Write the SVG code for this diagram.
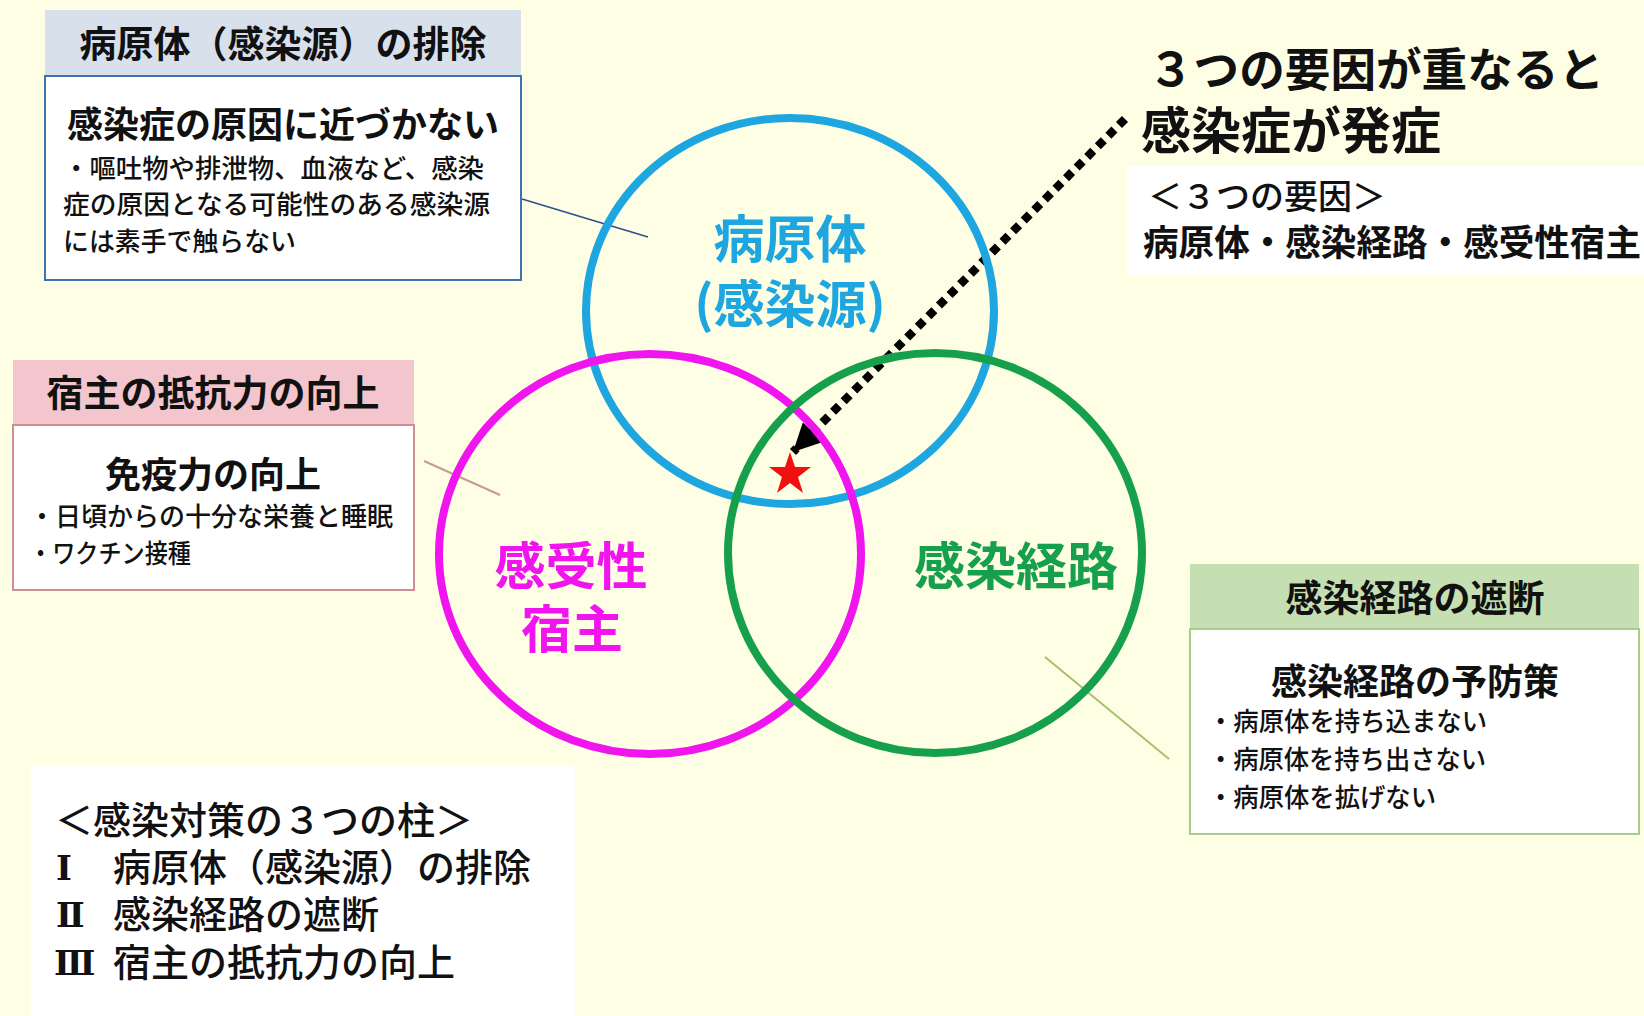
<svg xmlns="http://www.w3.org/2000/svg" width="1644" height="1016" viewBox="0 0 1644 1016">
<defs>
<style>
text{font-family:"Noto Sans CJK JP","Noto Sans",sans-serif;fill:#111}
.b{font-weight:700}
.hd{font-size:37px;font-weight:700;text-anchor:middle}
.tt{font-size:36px;font-weight:700;text-anchor:middle}
.ln{font-size:26.5px;font-weight:500}
.circ{fill:none;stroke-width:8}
.lbl{font-size:51px;font-weight:700;text-anchor:middle}
.big{font-size:38px;font-weight:500}
.rn{font-family:"DejaVu Serif","Liberation Serif",serif;font-weight:700;font-size:34px}
</style>
<marker id="ah" markerUnits="userSpaceOnUse" markerWidth="28" markerHeight="28" viewBox="0 0 10 10" refX="10" refY="5" orient="auto">
<path d="M0,0 L10,5 L0,10 z" fill="#000"/>
</marker>
</defs>
<rect width="1644" height="1016" fill="#FEFEE4"/>

<g id="connectors">
<line x1="522" y1="199" x2="648" y2="237" stroke="#2F4F8F" stroke-width="1.6"/>
<line x1="424" y1="461" x2="500" y2="495" stroke="#C49A9A" stroke-width="2"/>
<line x1="1045" y1="657" x2="1169" y2="759" stroke="#A8C070" stroke-width="2"/>
<line x1="1125" y1="119" x2="793" y2="452" stroke="#000" stroke-width="8.5" stroke-dasharray="8.5 6.5" marker-end="url(#ah)"/>
</g>

<g id="circle-pathogen">
<ellipse class="circ" cx="790" cy="311" rx="204" ry="193" stroke="#1DA6E0"/>
<text class="lbl" x="790" y="258" style="fill:#1DA6E0">病原体</text>
<text class="lbl" x="790" y="323" style="fill:#1DA6E0">(感染源)</text>
</g>
<g id="circle-host">
<ellipse class="circ" cx="650" cy="554" rx="211" ry="200" stroke="#F014EE"/>
<text class="lbl" x="571" y="585" style="fill:#F014EE">感受性</text>
<text class="lbl" x="572" y="648" style="fill:#F014EE">宿主</text>
</g>
<g id="circle-route">
<ellipse class="circ" cx="935" cy="553" rx="207" ry="200" stroke="#17A04C"/>
<text class="lbl" x="1016" y="585" style="fill:#17A04C">感染経路</text>
</g>
<g id="star">
<polygon points="790,452 795,467 811,467 798,477 803,493 790,483 777,493 782,477 769,467 785,467" fill="#F01010"/>
</g>

<g id="box-pathogen">
<rect x="45" y="10" width="476" height="66" fill="#D8E0EC"/>
<text class="hd" x="283" y="58" font-size="38">病原体（感染源）の排除</text>
<rect x="45" y="76" width="476" height="204" fill="#FFFFFF" stroke="#3F72B0" stroke-width="2"/>
<text class="tt" x="283" y="138">感染症の原因に近づかない</text>
<text class="ln" x="63" y="178" textLength="421" lengthAdjust="spacingAndGlyphs">・嘔吐物や排泄物、血液など、感染</text>
<text class="ln" x="63" y="214" textLength="427" lengthAdjust="spacingAndGlyphs">症の原因となる可能性のある感染源</text>
<text class="ln" x="63" y="251" textLength="233" lengthAdjust="spacingAndGlyphs">には素手で触らない</text>
</g>

<g id="box-host">
<rect x="13" y="360" width="401" height="65" fill="#F3C5CD"/>
<text class="hd" x="213" y="407">宿主の抵抗力の向上</text>
<rect x="13" y="425" width="401" height="165" fill="#FFFFFF" stroke="#CF8E94" stroke-width="2"/>
<text class="tt" x="213" y="488">免疫力の向上</text>
<text class="ln" x="29" y="526" textLength="364" lengthAdjust="spacingAndGlyphs">・日頃からの十分な栄養と睡眠</text>
<text class="ln" x="29" y="563" textLength="162" lengthAdjust="spacingAndGlyphs">・ワクチン接種</text>
</g>

<g id="box-route">
<rect x="1190" y="564" width="449" height="65" fill="#C6DFB2"/>
<text class="hd" x="1415" y="612">感染経路の遮断</text>
<rect x="1190" y="629" width="449" height="205" fill="#FFFFFF" stroke="#A8CC8C" stroke-width="2"/>
<text class="tt" x="1415" y="695">感染経路の予防策</text>
<text class="ln" x="1208" y="731" textLength="279" lengthAdjust="spacingAndGlyphs">・病原体を持ち込まない</text>
<text class="ln" x="1208" y="769" textLength="278" lengthAdjust="spacingAndGlyphs">・病原体を持ち出さない</text>
<text class="ln" x="1208" y="807" textLength="228" lengthAdjust="spacingAndGlyphs">・病原体を拡げない</text>
</g>

<g id="onset">
<rect x="1127" y="166" width="517" height="109" fill="#FFFFFF"/>
<text class="b" x="1148" y="86" font-size="46" textLength="456" lengthAdjust="spacingAndGlyphs">３つの要因が重なると</text>
<text class="b" x="1141" y="149" font-size="50">感染症が発症</text>
<text x="1148" y="209" font-size="34" font-weight="500">＜３つの要因＞</text>
<text class="b" x="1143" y="256" font-size="36" textLength="498" lengthAdjust="spacingAndGlyphs">病原体・感染経路・感受性宿主</text>
</g>

<g id="pillars">
<rect x="31" y="765" width="544" height="251" fill="#FFFFFF"/>
<text class="big" x="55" y="834" font-size="36">＜感染対策の３つの柱＞</text>
<text class="rn" x="56" y="880">Ⅰ</text>
<text class="big" x="113" y="881">病原体（感染源）の排除</text>
<text class="rn" x="56" y="927">Ⅱ</text>
<text class="big" x="113" y="928">感染経路の遮断</text>
<text class="rn" x="54" y="975">Ⅲ</text>
<text class="big" x="113" y="976">宿主の抵抗力の向上</text>
</g>
</svg>
